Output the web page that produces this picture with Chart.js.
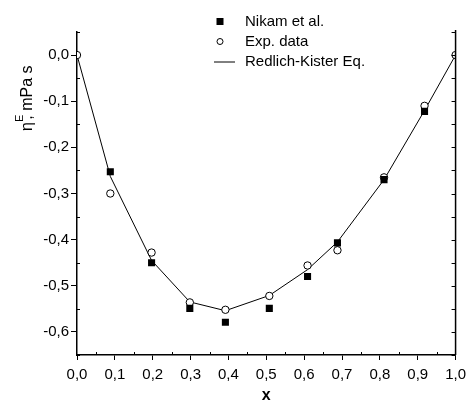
<!DOCTYPE html>
<html>
<head>
<meta charset="utf-8">
<script src="https://cdn.jsdelivr.net/npm/chart.js@4/dist/chart.umd.min.js"></script>
<style>
  html, body { margin: 0; padding: 0; background: #fff; }
  #wrap { width: 472px; height: 405px; }
</style>
</head>
<body>
<div id="wrap"><canvas id="viscChart" width="472" height="405"></canvas></div>
<script>
// values
const xNikam = [0.088, 0.197, 0.298, 0.392, 0.508, 0.609, 0.688, 0.811, 0.918]
const nikam = [-0.253, -0.450, -0.549, -0.579, -0.549, -0.480, -0.407, -0.270, -0.122]

const xExp = [0.0, 0.088, 0.197, 0.298, 0.392, 0.508, 0.609, 0.688, 0.811, 0.918, 1.0]
const expData = [0.0, -0.300, -0.428, -0.536, -0.552, -0.522, -0.456, -0.423, -0.265, -0.110, 0.0]
const redlichKister = [0.0, -0.263, -0.445, -0.535, -0.554, -0.521, -0.465, -0.405, -0.270, -0.120, 0.0]

const xTicks = [0, 0.1, 0.2, 0.3, 0.4, 0.5, 0.6, 0.7, 0.8, 0.9, 1.0]
const yTicks = [0.0, -0.1, -0.2, -0.3, -0.4, -0.5, -0.6]

const FONT = 'Liberation Sans, Arial, sans-serif'
const pts = (xs, ys) => xs.map((x, i) => ({ x: x, y: ys[i] }))
const comma = v => v.toFixed(1).replace('.', ',')

// axes decoration, titles and legend
const decor = {
  id: 'decor',
  afterDraw(chart) {
    const ctx = chart.ctx
    const a = chart.chartArea
    const xs = chart.scales.x
    const ys = chart.scales.y
    ctx.save()
    ctx.strokeStyle = '#000'
    ctx.lineWidth = 1.5
    // right axis
    ctx.beginPath()
    ctx.moveTo(a.right, a.top - 2)
    ctx.lineTo(a.right, a.bottom)
    ctx.stroke()
    ctx.lineWidth = 1
    ctx.beginPath()
    for (let v = 0.05; v >= -0.65; v -= 0.05) {
      const py = Math.round(ys.getPixelForValue(v)) + 0.5
      ctx.moveTo(a.right, py); ctx.lineTo(a.right - 4, py)
    }
    // minor ticks
    for (let v = 0.05; v < 1; v += 0.1) {
      const px = Math.round(xs.getPixelForValue(v)) + 0.5
      ctx.moveTo(px, a.bottom); ctx.lineTo(px, a.bottom - 3)
    }
    for (let v = 0.05; v > -0.65; v -= 0.1) {
      const py = Math.round(ys.getPixelForValue(v)) + 0.5
      ctx.moveTo(a.left, py); ctx.lineTo(a.left + 3, py)
    }
    ctx.stroke()

    // y title: eta^E, mPa s
    ctx.fillStyle = '#000'
    ctx.translate(32, 131)
    ctx.rotate(-Math.PI / 2)
    ctx.textBaseline = 'alphabetic'
    ctx.textAlign = 'left'
    ctx.font = '16px ' + FONT
    ctx.fillText('η', 0, 0)
    let w = ctx.measureText('η').width
    ctx.font = '11px ' + FONT
    ctx.fillText('E', w, -9)
    w += ctx.measureText('E').width - 5
    ctx.font = '16px ' + FONT
    ctx.fillText(', mPa s', w, 0)
    ctx.restore()

    // legend
    ctx.save()
    ctx.font = '15px ' + FONT
    ctx.textBaseline = 'middle'
    ctx.fillStyle = '#000'
    ctx.strokeStyle = '#000'
    const mx = 220, tx = 245
    const rows = [21.5, 41.5, 61.5]
    ctx.fillRect(mx - 3.5, rows[0] - 3.5, 7, 7)
    ctx.lineWidth = 1
    ctx.beginPath(); ctx.arc(mx, rows[1], 3, 0, Math.PI * 2); ctx.stroke()
    ctx.beginPath(); ctx.moveTo(214, rows[2] + 0.5); ctx.lineTo(235, rows[2] + 0.5); ctx.stroke()
    chart.data.datasets.forEach((ds, i) => ctx.fillText(ds.label, tx, rows[i]))
    ctx.restore()
  }
}

new Chart(document.getElementById('viscChart'), {
  type: 'scatter',
  data: {
    datasets: [{
      label: 'Nikam et al.',
      data: pts(xNikam, nikam),
      pointStyle: 'rect',
      pointRadius: 5,
      backgroundColor: '#000',
      borderColor: '#000',
      borderWidth: 0,
      showLine: false
    }, {
      label: 'Exp. data',
      data: pts(xExp, expData),
      pointStyle: 'circle',
      pointRadius: 3.7,
      backgroundColor: '#fff',
      borderColor: '#000',
      borderWidth: 1,
      showLine: false
    }, {
      label: 'Redlich-Kister Eq.',
      data: pts(xExp, redlichKister),
      pointRadius: 0,
      borderColor: '#000',
      borderWidth: 1,
      showLine: true,
      tension: 0
    }]
  },
  options: {
    responsive: false,
    animation: false,
    layout: { padding: { top: 32, right: 12, left: 0, bottom: 0 } },
    plugins: { legend: { display: false }, tooltip: { enabled: false } },
    scales: {
      x: {
        type: 'linear',
        min: 0,
        max: 1,
        afterFit: s => { s.height = 50 },
        afterBuildTicks: s => { s.ticks = xTicks.map(v => ({ value: v })) },
        border: { display: true, color: '#000', width: 1.5 },
        grid: { drawOnChartArea: false, drawTicks: true, tickLength: 5, color: '#000' },
        ticks: {
          color: '#000',
          padding: 6,
          maxRotation: 0,
          font: { family: FONT, size: 15 },
          callback: v => comma(v)
        },
        title: {
          display: true,
          text: 'x',
          color: '#000',
          padding: { top: 0, bottom: 0 },
          font: { family: FONT, size: 16, weight: 'bold' }
        }
      },
      y: {
        min: -0.65,
        max: 0.05,
        afterFit: s => { s.width = 77 },
        afterBuildTicks: s => { s.ticks = yTicks.map(v => ({ value: v })) },
        border: { display: true, color: '#000', width: 1.5 },
        grid: { drawOnChartArea: false, drawTicks: true, tickLength: 6, color: '#000' },
        ticks: {
          color: '#000',
          padding: 2,
          font: { family: FONT, size: 15 },
          callback: v => comma(v)
        }
      }
    }
  },
  plugins: [decor]
})
</script>
</body>
</html>
